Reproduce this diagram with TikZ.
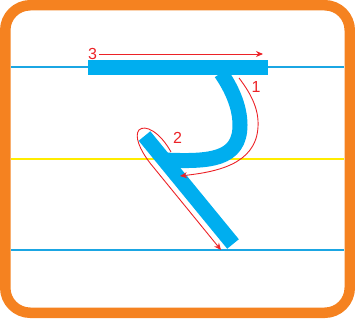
\documentclass[tikz,border=0pt]{standalone}
\usepackage{fontspec}
\setmainfont{Liberation Sans}
\usetikzlibrary{arrows.meta,positioning}
\definecolor{frameorange}{HTML}{F58220}
\definecolor{guideblue}{HTML}{1BA6E3}
\definecolor{guideyellow}{HTML}{FFEC00}
\definecolor{strokeblue}{HTML}{00AEEF}
\definecolor{tracered}{HTML}{EC2227}

\begin{document}
\begin{tikzpicture}[x=1pt, y=-1pt,
  frame/.style={draw=frameorange, line width=10.5pt, rounded corners=25pt},
  guide/.style={line width=1.3pt},
  stroke/.style={draw=strokeblue, line width=15pt},
  trace/.style={draw=tracered, line width=0.9pt, -{Stealth[length=7pt, width=6pt]}},
  num/.style={text=tracered, font=\fontsize{16}{16}\selectfont, inner sep=0pt},
]
  \useasboundingbox (0,0) rectangle (355,326);
  \draw[frame] (5.25,5.25) rectangle (349.75,312.75);

  % guide lines
  \draw[guide, draw=guideblue] (11,67) -- (344,67);
  \draw[guide, draw=guideyellow] (11,159) -- (344,159);
  \draw[guide, draw=guideblue] (11,250) -- (344,250);

  % letter strokes
  \coordinate (barL) at (88,67.5);
  \coordinate (barR) at (268,67.5);
  \coordinate (hookA) at (221,73);
  \coordinate (hookB) at (240,125);
  \coordinate (hookC) at (164,160);
  \coordinate (legT) at (144.5,136);
  \coordinate (legB) at (233,244);
  \draw[stroke] (hookA) .. controls (230,86) and (240,105) .. (hookB)
    .. controls (240,160) and (210,162) .. (hookC);
  \draw[stroke] (legT) -- (legB);
  \draw[stroke] (barL) -- (barR);

  % tracing arrows
  \coordinate (t1s) at (239,78);
  \coordinate (t1m) at (258,127);
  \coordinate (t1e) at (180,176);
  \draw[trace] (t1s) .. controls (252,95) and (259,110) .. (t1m)
    .. controls (256,165) and (215,172) .. (t1e);
  \coordinate (t2s) at (171,152);
  \coordinate (t2m) at (139,130);
  \coordinate (t2k) at (150,163);
  \coordinate (t2e) at (221,250);
  \draw[trace] (t2s) .. controls (160,132) and (145,124) .. (t2m)
    .. controls (134,136) and (140,150) .. (t2k) -- (t2e);
  \coordinate (t3s) at (99,54);
  \coordinate (t3e) at (263,54);
  \draw[trace] (t3s) -- (t3e);

  \node[num] (n1) at (256,86.5) {1};
  \node[num] (n2) at (177.5,138) {2};
  \node[num] (n3) at (92.5,54) {3};
\end{tikzpicture}
\end{document}
